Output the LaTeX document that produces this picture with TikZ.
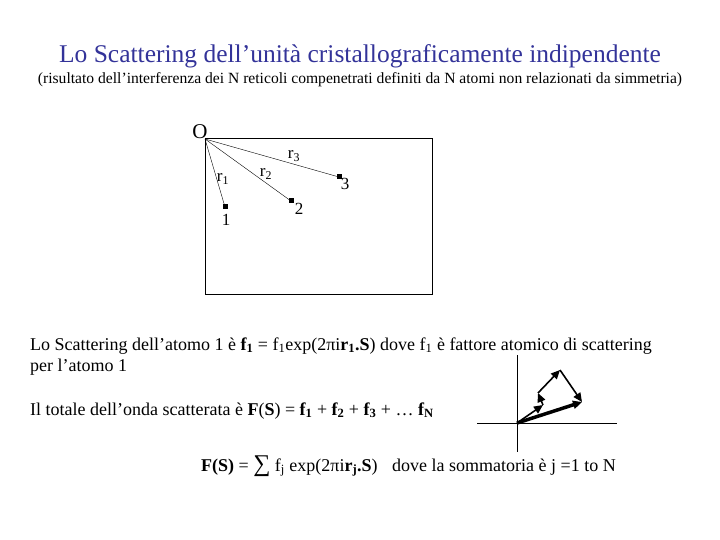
\documentclass[tikz,border=0pt]{standalone}
\usepackage{fontspec}
\setmainfont{Liberation Serif}
\usetikzlibrary{arrows.meta}
\definecolor{titleblue}{RGB}{51,51,153}
\tikzset{
  atom/.style={fill=black, inner sep=0pt, minimum size=5pt},
  body/.style={anchor=base west, inner sep=0pt, font=\fontsize{18}{20}\selectfont},
  lbl/.style={inner sep=0pt, font=\fontsize{17}{18}\selectfont},
  vec/.style={-{Triangle[length=9pt,width=8pt]}, line width=1.6pt}
}
\begin{document}
\begin{tikzpicture}[x=1pt,y=-1pt]
  \useasboundingbox (0,0) rectangle (720,540);

  % title
  \node[anchor=base, inner sep=0pt, titleblue, font=\fontsize{25.5}{28}\selectfont] (title) at (360,63)
    {Lo Scattering dell’unità cristallograficamente indipendente};
  \node[anchor=base, inner sep=0pt, font=\fontsize{15.6}{17}\selectfont] (subtitle) at (360,84)
    {(risultato dell’interferenza dei N reticoli compenetrati definiti da N atomi non relazionati da simmetria)};

  % cell with atoms
  \draw (205,138) rectangle (432,294);
  \coordinate (O) at (205,139);
  \node[lbl, font=\fontsize{21}{22}\selectfont] (Olbl) at (200,132) {O};
  \node[atom] (a1) at (225,207) {};
  \node[atom] (a2) at (291,201) {};
  \node[atom] (a3) at (339,177) {};
  \draw (O) -- (a1.center);
  \draw (O) -- (a2.center);
  \draw (O) -- (a3.center);
  \node[lbl] (n1) at (226,220) {1};
  \node[lbl] (n2) at (299,209) {2};
  \node[lbl] (n3) at (345,184) {3};
  \node[lbl] (r1) at (223,179) {r\textsubscript{1}};
  \node[lbl] (r2) at (266,174) {r\textsubscript{2}};
  \node[lbl] (r3) at (294,156) {r\textsubscript{3}};

  % text
  \node[body] (line1) at (30,350)
    {Lo Scattering dell’atomo 1 è \textbf{f\textsubscript{1}} = f\textsubscript{1}exp(2πi\textbf{r\textsubscript{1}.S}) dove f\textsubscript{1} è fattore atomico di scattering};
  \node[body] (line2) at (30,371) {per l’atomo 1};
  \node[body] (line3) at (30,415)
    {Il totale dell’onda scatterata è \textbf{F}(\textbf{S}) = \textbf{f\textsubscript{1}} + \textbf{f\textsubscript{2}} + \textbf{f\textsubscript{3}} + … \textbf{f\textsubscript{N}}};
  \node[body] (line4) at (201,471)
    {\textbf{F(S)} = {\fontsize{24}{24}\selectfont ∑} f\textsubscript{j} exp(2πi\textbf{r\textsubscript{j}.S})\hspace{10pt} dove la sommatoria è j =1 to N};

  % vector sum
  \coordinate (v0) at (517,423);
  \coordinate (v1) at (543,405);
  \coordinate (v2) at (538,393);
  \coordinate (v3) at (560,370);
  \coordinate (v4) at (582,402);
  \draw (477,423) -- (617,423);
  \draw (517,355) -- (517,452);
  \draw[vec] (v0) -- (v1);
  \draw[vec] (v1) -- (v2);
  \draw[vec] (v2) -- (v3);
  \draw[vec] (v3) -- (v4);
  \draw[vec, line width=3.5pt] (v0) -- (v4);
\end{tikzpicture}
\end{document}
